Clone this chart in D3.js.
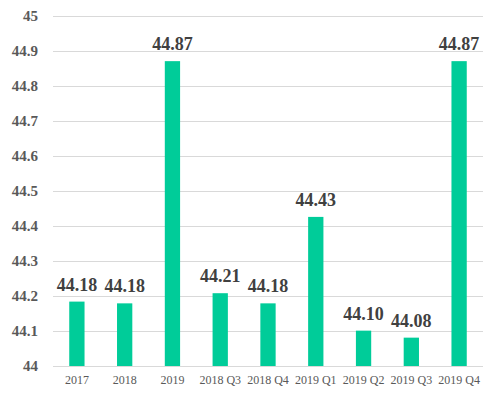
<!DOCTYPE html>
<html>
<head>
<meta charset="utf-8">
<script src="https://cdn.jsdelivr.net/npm/d3@7"></script>
<style>
  body { margin: 0; background: #fff; }
  svg text { font-family: "Liberation Serif", "Times New Roman", serif; }
</style>
</head>
<body>
<div id="container"></div>
<script>
// categories and values
const categories = ["2017", "2018", "2019", "2018 Q3", "2018 Q4", "2019 Q1", "2019 Q2", "2019 Q3", "2019 Q4"];
const values = [44.184, 44.179, 44.871, 44.208, 44.179, 44.426, 44.101, 44.081, 44.871];
const yTicks = [44, 44.1, 44.2, 44.3, 44.4, 44.5, 44.6, 44.7, 44.8, 44.9, 45];

const width = 500,
      height = 397;

const margin = {top: 16, right: 17, bottom: 31, left: 53};

const svg = d3.select("#container").append("svg")
    .attr("width", width)
    .attr("height", height);

const x = d3.scaleBand()
    .domain(categories)
    .range([margin.left, width - margin.right])
    .paddingInner(0.68)
    .paddingOuter(0.34);

const y = d3.scaleLinear()
    .domain([44, 45])
    .range([height - margin.bottom, margin.top]);

// gridlines
svg.append("g")
    .selectAll("line")
    .data(yTicks)
    .enter()
    .append("line")
    .attr("x1", margin.left)
    .attr("x2", width - margin.right)
    .attr("y1", d => Math.round(y(d)) + 0.5)
    .attr("y2", d => Math.round(y(d)) + 0.5)
    .attr("stroke", "#d9d9d9")
    .attr("stroke-width", 1);

// y axis labels
const yAxis = d3.axisLeft(y)
    .tickValues(yTicks)
    .tickSize(0)
    .tickPadding(15)
    .tickFormat(d => d3.format("")(+d.toFixed(1)));

svg.append("g")
    .attr("transform", "translate(" + margin.left + ",0)")
    .call(yAxis)
    .call(g => g.select(".domain").remove())
    .selectAll("text")
    .attr("fill", "#595959")
    .attr("font-weight", "bold")
    .attr("font-size", "15px")
    .style("font-family", "'Liberation Serif', serif");

// bars
svg.append("g")
    .selectAll("rect")
    .data(values)
    .enter()
    .append("rect")
    .attr("x", (d, i) => x(categories[i]))
    .attr("width", x.bandwidth())
    .attr("y", d => y(d))
    .attr("height", d => y(44) - y(d))
    .attr("fill", "#00cc99");

// value labels
svg.append("g")
    .selectAll("text")
    .data(values)
    .enter()
    .append("text")
    .attr("x", (d, i) => x(categories[i]) + x.bandwidth() / 2)
    .attr("y", d => y(d) - 11)
    .attr("text-anchor", "middle")
    .attr("fill", "#404040")
    .attr("font-weight", "bold")
    .attr("font-size", "18px")
    .text(d => d.toFixed(2));

// x axis labels
const xAxis = d3.axisBottom(x)
    .tickSize(0)
    .tickPadding(9);

svg.append("g")
    .attr("transform", "translate(0," + (height - margin.bottom) + ")")
    .call(xAxis)
    .call(g => g.select(".domain").remove())
    .selectAll("text")
    .attr("fill", "#595959")
    .attr("font-size", "12px")
    .style("font-family", "'Liberation Serif', serif");
</script>
</body>
</html>
